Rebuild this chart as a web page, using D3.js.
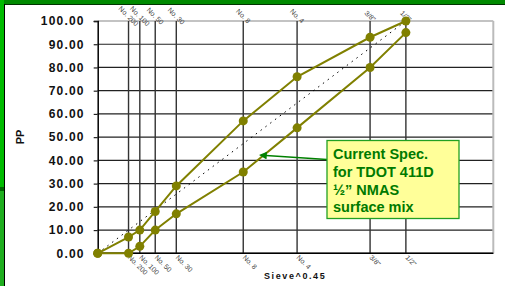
<!DOCTYPE html>
<html>
<head>
<meta charset="utf-8">
<script src="https://cdn.jsdelivr.net/npm/d3@7"></script>
<style>
  body { margin: 0; background: #fff; }
  svg { display: block; font-family: Arial, "Liberation Sans", sans-serif; }
</style>
</head>
<body>
<div id="chart"></div>
<script>
// sieve sizes in mm, plotted on a 0.45 power scale
const sieveNames = ["No. 200", "No. 100", "No. 50", "No. 30", "No. 8", "No. 4", "3/8\"", "1/2\""];
const sieveSizes = [0.075, 0.15, 0.3, 0.6, 2.36, 4.75, 9.5, 12.5];
const curveSizes = [0, 0.075, 0.15, 0.3, 0.6, 2.36, 4.75, 9.5, 12.5];
const upperLimit = [0, 7, 10, 18, 29, 57, 76, 93, 100];
const lowerLimit = [0, 0, 3, 10, 17, 35, 54, 80, 95];
const maxDensitySizes = [0, 12.5];
const maxDensityPP = [0, 100];
const yTicks = [0, 10, 20, 30, 40, 50, 60, 70, 80, 90, 100];
const noteLines = ["Current Spec.", "for TDOT 411D", "\u00bd\u201d NMAS", "surface mix"];

const W = 505, H = 286;
const margin = {top: 21, right: 12, bottom: 33, left: 98};

const svg = d3.select("#chart").append("svg")
    .attr("width", W)
    .attr("height", H);

// frame bits (green slide edge)
svg.append("rect").attr("x", 0).attr("y", 0).attr("width", W).attr("height", 4).attr("fill", "#008a00");
svg.append("line").attr("x1", 0).attr("x2", W).attr("y1", 4.5).attr("y2", 4.5).attr("stroke", "#003300");
svg.append("rect").attr("x", 0).attr("y", 0).attr("width", 4).attr("height", 187).attr("fill", "#00bb00");
svg.append("rect").attr("x", 0).attr("y", 187).attr("width", 4).attr("height", 4).attr("fill", "#006600");
svg.append("rect").attr("x", 0).attr("y", 191).attr("width", 4).attr("height", H - 191).attr("fill", "#1fae1f");
svg.append("line").attr("x1", 4.5).attr("x2", 4.5).attr("y1", 4).attr("y2", H).attr("stroke", "#000");

const x = d3.scalePow().exponent(0.45)
    .domain([0, Math.pow(4, 1 / 0.45)])
    .range([97.7, 493.3]);

const y = d3.scaleLinear()
    .domain([0, 100])
    .range([253.3, 21]);

const x0 = x.range()[0], x1 = x.range()[1];
const y0 = y.range()[0], y1 = y.range()[1];

// horizontal grid
svg.append("g").selectAll("line")
    .data(yTicks)
  .enter().append("line")
    .attr("x1", x0).attr("x2", x1)
    .attr("y1", d => y(d)).attr("y2", d => y(d))
    .attr("stroke", d => d == 100 ? "#888" : "#222")
    .attr("stroke-width", 1.2);

// vertical grid at sieves
svg.append("g").selectAll("line")
    .data(sieveSizes)
  .enter().append("line")
    .attr("x1", d => x(d)).attr("x2", d => x(d))
    .attr("y1", y1).attr("y2", y0)
    .attr("stroke", "#333")
    .attr("stroke-width", 1.4);

// right border
svg.append("line")
    .attr("x1", x1).attr("x2", x1).attr("y1", y1).attr("y2", y0)
    .attr("stroke", "#bbb").attr("stroke-width", 2);

// y axis
const yAxisGroup = svg.append("g")
    .attr("transform", "translate(" + x0 + ",0)")
    .call(d3.axisLeft(y).tickValues(yTicks).tickSize(4).tickPadding(9).tickFormat(d3.format(".2f")));
yAxisGroup.select("path.domain").attr("stroke", "#000").attr("stroke-width", 1.5);
yAxisGroup.selectAll(".tick line").attr("stroke", "#222").attr("stroke-width", 1.2);
yAxisGroup.selectAll("text")
    .attr("font-family", "Arial, 'Liberation Sans', sans-serif")
    .attr("font-size", "12px")
    .attr("font-weight", "bold")
    .attr("letter-spacing", "1.2px")
    .attr("fill", "#111");

// bottom line
svg.append("line")
    .attr("x1", x0).attr("x2", x1).attr("y1", y0).attr("y2", y0)
    .attr("stroke", "#000").attr("stroke-width", 1.5);

// sieve labels, top and bottom
svg.append("g").selectAll("text")
    .data(sieveSizes)
  .enter().append("text")
    .attr("transform", d => "translate(" + x(d) + ",16) rotate(45)")
    .attr("text-anchor", "middle")
    .attr("dy", "0.35em")
    .attr("font-size", "7px")
    .attr("fill", "#444")
    .text((d, i) => sieveNames[i]);

svg.append("g").selectAll("text")
    .data(sieveSizes)
  .enter().append("text")
    .attr("transform", d => "translate(" + (x(d) - 1) + ",258) rotate(45)")
    .attr("text-anchor", "start")
    .attr("font-size", "7px")
    .attr("fill", "#444")
    .text((d, i) => sieveNames[i]);

// axis titles
svg.append("text")
    .attr("transform", "translate(24,137) rotate(-90)")
    .attr("text-anchor", "middle")
    .attr("font-size", "11px")
    .attr("font-weight", "bold")
    .attr("fill", "#111")
    .text("PP");

svg.append("text")
    .attr("x", 264).attr("y", 279)
    .attr("font-size", "9px")
    .attr("font-weight", "bold")
    .attr("letter-spacing", "1.6px")
    .attr("fill", "#111")
    .text("Sieve^0.45");

// max density line
const line = d3.line().x(d => x(d[0])).y(d => y(d[1]));
svg.append("path")
    .datum(maxDensitySizes.map((s, i) => [s, maxDensityPP[i]]))
    .attr("d", line)
    .attr("fill", "none")
    .attr("stroke", "#000")
    .attr("stroke-width", 1)
    .attr("stroke-dasharray", "1.5,4.5");

// spec band
[upperLimit, lowerLimit].forEach(vals => {
  const pts = curveSizes.map((s, i) => [s, vals[i]]);
  svg.append("path")
      .datum(pts)
      .attr("d", line)
      .attr("fill", "none")
      .attr("stroke", "#808000")
      .attr("stroke-width", 2);
  svg.append("g").selectAll("circle")
      .data(pts)
    .enter().append("circle")
      .attr("cx", d => x(d[0]))
      .attr("cy", d => y(d[1]))
      .attr("r", 4.5)
      .attr("fill", "#808000");
});

// annotation
const defs = svg.append("defs");
defs.append("marker")
    .attr("id", "arrow")
    .attr("viewBox", "0 0 10 10")
    .attr("refX", 1).attr("refY", 5)
    .attr("markerWidth", 7).attr("markerHeight", 6)
    .attr("orient", "auto-start-reverse")
    .append("path")
    .attr("d", "M0,0 L10,5 L0,10 z")
    .attr("fill", "#008000");

svg.append("line")
    .attr("x1", 327).attr("y1", 159.5)
    .attr("x2", 266).attr("y2", 155.5)
    .attr("stroke", "#008000")
    .attr("stroke-width", 1.3)
    .attr("marker-end", "url(#arrow)");

svg.append("rect")
    .attr("x", 327).attr("y", 140.5)
    .attr("width", 132).attr("height", 78)
    .attr("fill", "#ffff99")
    .attr("stroke", "#22a022")
    .attr("stroke-width", 1.3);

svg.append("g").selectAll("text")
    .data(noteLines)
  .enter().append("text")
    .attr("x", 333)
    .attr("y", (d, i) => 159 + i * 17.8)
    .attr("font-size", "14.5px")
    .attr("font-weight", "bold")
    .attr("fill", "#007a00")
    .text(d => d);
</script>
</body>
</html>
